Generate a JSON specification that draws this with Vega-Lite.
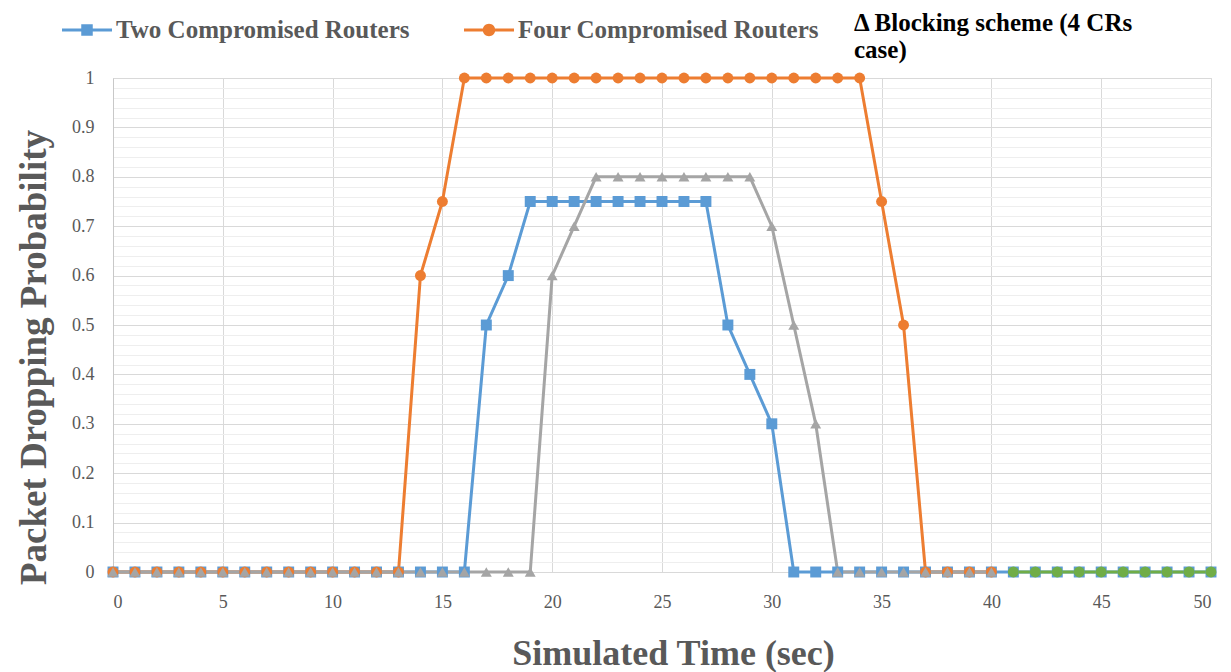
{
  "$schema": "https://vega.github.io/schema/vega-lite/v6.json",
  "width": 1098,
  "height": 494,
  "autosize": {"type": "none"},
  "padding": {"left": 113, "top": 78, "right": 20, "bottom": 100},
  "background": "white",
  "config": {
    "view": {"stroke": "#d9d9d9", "strokeWidth": 1},
    "font": "Liberation Serif",
    "axis": {"labelFont": "Liberation Serif", "titleFont": "Liberation Serif"},
    "legend": {"labelFont": "Liberation Serif"}
  },
  "datasets": {
    "two": [
      {"series":"Two Compromised Routers","time":0,"prob":0},{"series":"Two Compromised Routers","time":1,"prob":0},{"series":"Two Compromised Routers","time":2,"prob":0},{"series":"Two Compromised Routers","time":3,"prob":0},{"series":"Two Compromised Routers","time":4,"prob":0},{"series":"Two Compromised Routers","time":5,"prob":0},{"series":"Two Compromised Routers","time":6,"prob":0},{"series":"Two Compromised Routers","time":7,"prob":0},{"series":"Two Compromised Routers","time":8,"prob":0},{"series":"Two Compromised Routers","time":9,"prob":0},{"series":"Two Compromised Routers","time":10,"prob":0},{"series":"Two Compromised Routers","time":11,"prob":0},{"series":"Two Compromised Routers","time":12,"prob":0},{"series":"Two Compromised Routers","time":13,"prob":0},{"series":"Two Compromised Routers","time":14,"prob":0},{"series":"Two Compromised Routers","time":15,"prob":0},{"series":"Two Compromised Routers","time":16,"prob":0},{"series":"Two Compromised Routers","time":17,"prob":0.5},{"series":"Two Compromised Routers","time":18,"prob":0.6},{"series":"Two Compromised Routers","time":19,"prob":0.75},{"series":"Two Compromised Routers","time":20,"prob":0.75},{"series":"Two Compromised Routers","time":21,"prob":0.75},{"series":"Two Compromised Routers","time":22,"prob":0.75},{"series":"Two Compromised Routers","time":23,"prob":0.75},{"series":"Two Compromised Routers","time":24,"prob":0.75},{"series":"Two Compromised Routers","time":25,"prob":0.75},{"series":"Two Compromised Routers","time":26,"prob":0.75},{"series":"Two Compromised Routers","time":27,"prob":0.75},{"series":"Two Compromised Routers","time":28,"prob":0.5},{"series":"Two Compromised Routers","time":29,"prob":0.4},{"series":"Two Compromised Routers","time":30,"prob":0.3},{"series":"Two Compromised Routers","time":31,"prob":0},{"series":"Two Compromised Routers","time":32,"prob":0},{"series":"Two Compromised Routers","time":33,"prob":0},{"series":"Two Compromised Routers","time":34,"prob":0},{"series":"Two Compromised Routers","time":35,"prob":0},{"series":"Two Compromised Routers","time":36,"prob":0},{"series":"Two Compromised Routers","time":37,"prob":0},{"series":"Two Compromised Routers","time":38,"prob":0},{"series":"Two Compromised Routers","time":39,"prob":0},{"series":"Two Compromised Routers","time":40,"prob":0},{"series":"Two Compromised Routers","time":41,"prob":0},{"series":"Two Compromised Routers","time":42,"prob":0},{"series":"Two Compromised Routers","time":43,"prob":0},{"series":"Two Compromised Routers","time":44,"prob":0},{"series":"Two Compromised Routers","time":45,"prob":0},{"series":"Two Compromised Routers","time":46,"prob":0},{"series":"Two Compromised Routers","time":47,"prob":0},{"series":"Two Compromised Routers","time":48,"prob":0},{"series":"Two Compromised Routers","time":49,"prob":0},{"series":"Two Compromised Routers","time":50,"prob":0},
      {"series":"Four Compromised Routers","time":0,"prob":0},{"series":"Four Compromised Routers","time":1,"prob":0},{"series":"Four Compromised Routers","time":2,"prob":0},{"series":"Four Compromised Routers","time":3,"prob":0},{"series":"Four Compromised Routers","time":4,"prob":0},{"series":"Four Compromised Routers","time":5,"prob":0},{"series":"Four Compromised Routers","time":6,"prob":0},{"series":"Four Compromised Routers","time":7,"prob":0},{"series":"Four Compromised Routers","time":8,"prob":0},{"series":"Four Compromised Routers","time":9,"prob":0},{"series":"Four Compromised Routers","time":10,"prob":0},{"series":"Four Compromised Routers","time":11,"prob":0},{"series":"Four Compromised Routers","time":12,"prob":0},{"series":"Four Compromised Routers","time":13,"prob":0},{"series":"Four Compromised Routers","time":14,"prob":0.6},{"series":"Four Compromised Routers","time":15,"prob":0.75},{"series":"Four Compromised Routers","time":16,"prob":1},{"series":"Four Compromised Routers","time":17,"prob":1},{"series":"Four Compromised Routers","time":18,"prob":1},{"series":"Four Compromised Routers","time":19,"prob":1},{"series":"Four Compromised Routers","time":20,"prob":1},{"series":"Four Compromised Routers","time":21,"prob":1},{"series":"Four Compromised Routers","time":22,"prob":1},{"series":"Four Compromised Routers","time":23,"prob":1},{"series":"Four Compromised Routers","time":24,"prob":1},{"series":"Four Compromised Routers","time":25,"prob":1},{"series":"Four Compromised Routers","time":26,"prob":1},{"series":"Four Compromised Routers","time":27,"prob":1},{"series":"Four Compromised Routers","time":28,"prob":1},{"series":"Four Compromised Routers","time":29,"prob":1},{"series":"Four Compromised Routers","time":30,"prob":1},{"series":"Four Compromised Routers","time":31,"prob":1},{"series":"Four Compromised Routers","time":32,"prob":1},{"series":"Four Compromised Routers","time":33,"prob":1},{"series":"Four Compromised Routers","time":34,"prob":1},{"series":"Four Compromised Routers","time":35,"prob":0.75},{"series":"Four Compromised Routers","time":36,"prob":0.5},{"series":"Four Compromised Routers","time":37,"prob":0},{"series":"Four Compromised Routers","time":38,"prob":0},{"series":"Four Compromised Routers","time":39,"prob":0},{"series":"Four Compromised Routers","time":40,"prob":0},
      {"series":"Blocking scheme (4 CRs case)","time":0,"prob":0},{"series":"Blocking scheme (4 CRs case)","time":1,"prob":0},{"series":"Blocking scheme (4 CRs case)","time":2,"prob":0},{"series":"Blocking scheme (4 CRs case)","time":3,"prob":0},{"series":"Blocking scheme (4 CRs case)","time":4,"prob":0},{"series":"Blocking scheme (4 CRs case)","time":5,"prob":0},{"series":"Blocking scheme (4 CRs case)","time":6,"prob":0},{"series":"Blocking scheme (4 CRs case)","time":7,"prob":0},{"series":"Blocking scheme (4 CRs case)","time":8,"prob":0},{"series":"Blocking scheme (4 CRs case)","time":9,"prob":0},{"series":"Blocking scheme (4 CRs case)","time":10,"prob":0},{"series":"Blocking scheme (4 CRs case)","time":11,"prob":0},{"series":"Blocking scheme (4 CRs case)","time":12,"prob":0},{"series":"Blocking scheme (4 CRs case)","time":13,"prob":0},{"series":"Blocking scheme (4 CRs case)","time":14,"prob":0},{"series":"Blocking scheme (4 CRs case)","time":15,"prob":0},{"series":"Blocking scheme (4 CRs case)","time":16,"prob":0},{"series":"Blocking scheme (4 CRs case)","time":17,"prob":0},{"series":"Blocking scheme (4 CRs case)","time":18,"prob":0},{"series":"Blocking scheme (4 CRs case)","time":19,"prob":0},{"series":"Blocking scheme (4 CRs case)","time":20,"prob":0.6},{"series":"Blocking scheme (4 CRs case)","time":21,"prob":0.7},{"series":"Blocking scheme (4 CRs case)","time":22,"prob":0.8},{"series":"Blocking scheme (4 CRs case)","time":23,"prob":0.8},{"series":"Blocking scheme (4 CRs case)","time":24,"prob":0.8},{"series":"Blocking scheme (4 CRs case)","time":25,"prob":0.8},{"series":"Blocking scheme (4 CRs case)","time":26,"prob":0.8},{"series":"Blocking scheme (4 CRs case)","time":27,"prob":0.8},{"series":"Blocking scheme (4 CRs case)","time":28,"prob":0.8},{"series":"Blocking scheme (4 CRs case)","time":29,"prob":0.8},{"series":"Blocking scheme (4 CRs case)","time":30,"prob":0.7},{"series":"Blocking scheme (4 CRs case)","time":31,"prob":0.5},{"series":"Blocking scheme (4 CRs case)","time":32,"prob":0.3},{"series":"Blocking scheme (4 CRs case)","time":33,"prob":0},{"series":"Blocking scheme (4 CRs case)","time":34,"prob":0},{"series":"Blocking scheme (4 CRs case)","time":35,"prob":0},{"series":"Blocking scheme (4 CRs case)","time":36,"prob":0},{"series":"Blocking scheme (4 CRs case)","time":37,"prob":0},{"series":"Blocking scheme (4 CRs case)","time":38,"prob":0},{"series":"Blocking scheme (4 CRs case)","time":39,"prob":0},{"series":"Blocking scheme (4 CRs case)","time":40,"prob":0},
      {"series":"Series4","time":41,"prob":0},{"series":"Series4","time":42,"prob":0},{"series":"Series4","time":43,"prob":0},{"series":"Series4","time":44,"prob":0},{"series":"Series4","time":45,"prob":0},{"series":"Series4","time":46,"prob":0},{"series":"Series4","time":47,"prob":0},{"series":"Series4","time":48,"prob":0},{"series":"Series4","time":49,"prob":0},{"series":"Series4","time":50,"prob":0}
    ]
  },
  "data": {"name": "two"},
  "layer": [
    {
      "mark": {"type": "line", "interpolate": "linear", "strokeWidth": 3},
      "encoding": {
        "x": {
          "field": "time", "type": "quantitative",
          "scale": {"domain": [0, 50], "nice": false, "zero": false},
          "axis": {
            "values": [0,5,10,15,20,25,30,35,40,45,50],
            "grid": true, "gridColor": "#d9d9d9", "gridWidth": 1,
            "domain": false, "ticks": false,
            "labelFont": "Liberation Serif", "labelFontSize": 18, "labelColor": "#595959", "labelPadding": 21,
            "title": "Simulated Time (sec)",
            "titleFont": "Liberation Serif", "titleFontSize": 36, "titleFontWeight": "bold", "titleColor": "#595959",
            "titleX": 560, "titleY": 81, "titleBaseline": "middle", "titleAlign": "center"
          }
        },
        "y": {
          "field": "prob", "type": "quantitative",
          "scale": {"domain": [0, 1], "nice": false},
          "axis": {
            "orient": "left",
            "values": [0.02,0.04,0.06,0.08,0.12,0.14,0.16,0.18,0.22,0.24,0.26,0.28,0.32,0.34,0.36,0.38,0.42,0.44,0.46,0.48,0.52,0.54,0.56,0.58,0.62,0.64,0.66,0.68,0.72,0.74,0.76,0.78,0.82,0.84,0.86,0.88,0.92,0.94,0.96,0.98],
            "grid": true, "gridColor": "#eeeeee", "gridWidth": 1,
            "labels": false, "ticks": false, "domain": false, "title": null
          }
        },
        "color": {
          "field": "series", "type": "nominal",
          "scale": {
            "domain": ["Two Compromised Routers","Four Compromised Routers","Blocking scheme (4 CRs case)","Series4"],
            "range": ["#5B9BD5","#ED7D31","#A5A5A5","#70AD47"]
          },
          "legend": {
            "orient": "none", "legendX": -51, "legendY": -73, "direction": "horizontal",
            "values": ["Two Compromised Routers","Four Compromised Routers"],
            "title": null, "padding": 0, "symbolSize": 2500, "symbolStrokeWidth": 0,
            "labelFont": "Liberation Serif", "labelFontSize": 25, "labelFontWeight": "bold", "labelColor": "#595959",
            "labelLimit": 500, "labelOffset": 4, "columnPadding": 54,
            "encode": {
              "symbols": {
                "update": {
                  "shape": {"signal": "datum.value === 'Two Compromised Routers' ? 'M-1,-0.06H-0.2V0.06H-1ZM0.2,-0.06H1V0.06H0.2ZM-0.23,-0.23H0.23V0.23H-0.23Z' : 'M-1,-0.06H-0.2V0.06H-1ZM0.2,-0.06H1V0.06H0.2ZM0.25,0A0.25,0.25 0 1,1 -0.25,0A0.25,0.25 0 1,1 0.25,0Z'"},
                  "size": {"value": 2500},
                  "fill": {"signal": "datum.value === 'Two Compromised Routers' ? '#5B9BD5' : '#ED7D31'"},
                  "fillOpacity": {"value": 1},
                  "opacity": {"value": 1},
                  "strokeWidth": {"value": 0}
                }
              }
            }
          }
        }
      }
    },
    {
      "mark": {"type": "point", "filled": true, "opacity": 1, "size": 120},
      "encoding": {
        "x": {"field": "time", "type": "quantitative"},
        "y": {
          "field": "prob", "type": "quantitative",
          "axis": {
            "orient": "left",
            "values": [0,0.1,0.2,0.3,0.4,0.5,0.6,0.7,0.8,0.9,1],
            "format": "~g",
            "grid": true, "gridColor": "#d9d9d9", "gridWidth": 1,
            "domain": true, "domainColor": "#c8c8c8", "ticks": false,
            "labelFont": "Liberation Serif", "labelFontSize": 18, "labelColor": "#595959", "labelPadding": 19,
            "title": "Packet Dropping Probability",
            "titleFont": "Liberation Serif", "titleFontSize": 37, "titleFontWeight": "bold", "titleColor": "#595959",
            "titleX": -79, "titleY": 279, "titleBaseline": "middle", "titleAlign": "center", "titleAngle": -90
          }
        },
        "color": {"field": "series", "type": "nominal", "legend": null},
        "shape": {
          "field": "series", "type": "nominal",
          "scale": {
            "domain": ["Blocking scheme (4 CRs case)","Two Compromised Routers","Four Compromised Routers","Series4"],
            "range": ["triangle-up","square","circle","circle"]
          },
          "legend": {
            "orient": "none", "legendX": 716, "legendY": -80,
            "values": ["Blocking scheme (4 CRs case)"],
            "title": null, "padding": 0, "symbolSize": 1, "symbolOpacity": 0, "labelOffset": 0,
            "labelExpr": "['Δ Blocking scheme (4 CRs', 'case)']",
            "labelFont": "Liberation Serif", "labelFontSize": 25, "labelFontWeight": "bold", "labelColor": "#000000",
            "labelLimit": 500, "labelBaseline": "top",
            "encode": {"labels": {"update": {"lineHeight": {"value": 30}}}}
          }
        }
      }
    }
  ],
  "resolve": {"axis": {"y": "independent"}}
}
